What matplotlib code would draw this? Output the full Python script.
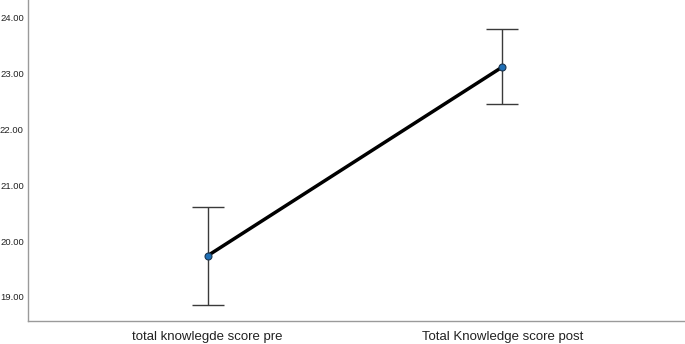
import numpy as np
import matplotlib.pyplot as plt

plt.rcParams['font.family'] = ['Liberation Sans', 'DejaVu Sans']

# Data
categories = ['total knowlegde score pre', 'Total Knowledge score post']
means = [19.74, 23.12]
upper = [20.62, 23.80]
lower = [18.86, 22.46]
yticks = [19, 20, 21, 22, 23, 24]


def main():
    x = np.arange(len(categories))
    m = np.array(means)
    err = [m - np.array(lower), np.array(upper) - m]

    fig = plt.figure(figsize=(6.85, 3.44), dpi=100)
    ax = fig.add_axes([0.0409, 0.0669, 0.959, 0.933])

    ax.errorbar(x, m, yerr=err, fmt='none', ecolor='#3a3a3a', elinewidth=1.0,
                capsize=11.5, capthick=1.0, zorder=2)
    ax.plot(x, m, color='black', linewidth=2.5, zorder=3)
    ax.plot(x, m, 'o', markersize=5, markerfacecolor='#1f6fb5',
            markeredgecolor='#1a3550', markeredgewidth=0.8, zorder=4)

    ax.set_xlim(-0.61, 1.62)
    ax.set_ylim(18.57, 24.32)
    ax.set_xticks(x)
    ax.set_xticklabels(categories, fontsize=9.5)
    ax.set_yticks(yticks)
    ax.set_yticklabels(['%.2f' % v for v in yticks], fontsize=6.8)
    ax.tick_params(axis='both', length=0, colors='#222222')
    ax.tick_params(axis='y', pad=3)
    ax.tick_params(axis='x', pad=7)

    for s in ['top', 'right']:
        ax.spines[s].set_visible(False)
    for s in ['left', 'bottom']:
        ax.spines[s].set_color('#9a9a9a')
        ax.spines[s].set_linewidth(1.0)

    fig.savefig('out.png', dpi=100)


if __name__ == "__main__":
    main()
